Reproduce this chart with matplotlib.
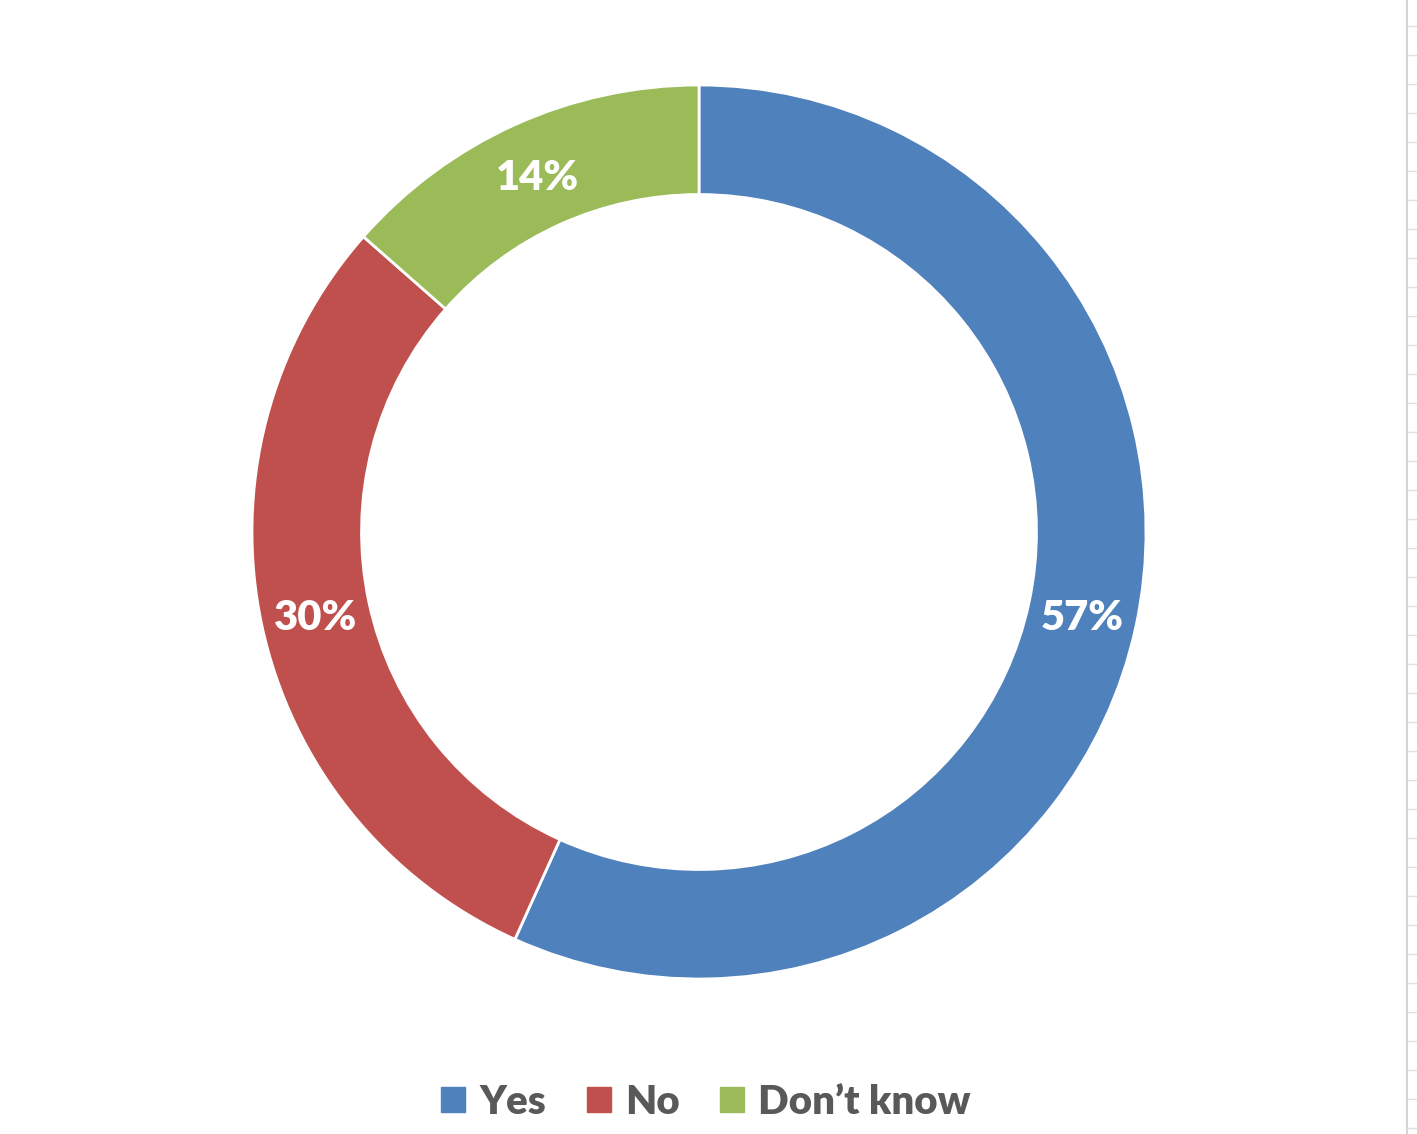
import matplotlib.pyplot as plt
from matplotlib.patches import Patch
from matplotlib.lines import Line2D

labels = ['Yes', 'No', 'Don\u2019t know']
counts = [21, 11, 5]
colors = ['#4F81BD', '#C0504D', '#9BBB59']

W, H = 1417, 1134
fig = plt.figure(figsize=(W / 100, H / 100), dpi=100)
fig.patch.set_facecolor('white')

# ring centre and radius in pixels
cx, cy, r = 699, 532, 447
ax = fig.add_axes([(cx - r) / W, (H - cy - r) / H, 2 * r / W, 2 * r / H])

wedges, texts, autotexts = ax.pie(
    counts, colors=colors, startangle=90, counterclock=False,
    radius=1, autopct='%.0f%%', pctdistance=0.878,
    wedgeprops=dict(width=0.245, edgecolor='white', linewidth=2),
    textprops=dict(color='white', fontsize=30, fontweight='heavy', family='Lato'))
for t in autotexts:
    t.set_va('center_baseline')
ax.set_xlim(-1, 1)
ax.set_ylim(-1, 1)
ax.set_aspect('equal')
ax.axis('off')

handles = [Patch(facecolor=c, edgecolor=c) for c in colors]
leg = fig.legend(handles, labels, loc='center', bbox_to_anchor=(706 / W, 1 - 1102 / H),
                 ncol=3, frameon=False, handlelength=0.6, handleheight=0.6,
                 handletextpad=0.35, columnspacing=1.0,
                 prop=dict(family='Lato', weight='heavy', size=29))
for t in leg.get_texts():
    t.set_color('#595959')

# spreadsheet edge at the right
fig.add_artist(Line2D([1407 / W, 1407 / W], [0, 1], color='#d4d4d4', lw=1.5))
for y in range(26, H, 29):
    fig.add_artist(Line2D([1408 / W, 1], [1 - y / H, 1 - y / H], color='#e0e0e0', lw=1))

fig.savefig('out.png', dpi=100)
